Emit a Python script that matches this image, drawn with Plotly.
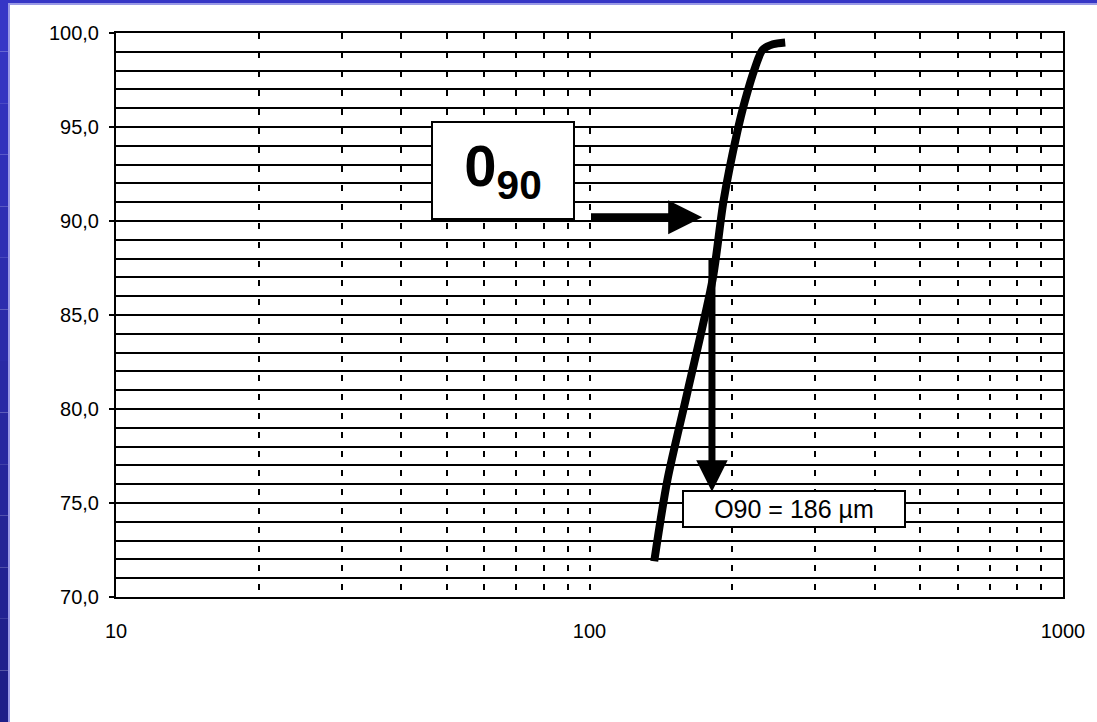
import math
import plotly.graph_objects as go

# ---- data ----
size_um = [137, 146, 161, 182, 192, 205, 213, 224, 232, 244, 259]
passing_pct = [71.9, 76.2, 80.9, 86.9, 91.1, 94.7, 96.4, 98.2, 99.1, 99.4, 99.5]

x_grid_vals = [10, 20, 30, 40, 50, 60, 70, 80, 90,
               100, 200, 300, 400, 500, 600, 700, 800, 900, 1000]
x_tick_text = ["10", "", "", "", "", "", "", "", "",
               "100", "", "", "", "", "", "", "", "", "1000"]
y_tick_vals = [70, 75, 80, 85, 90, 95, 100]

d90_value = 186
d90_level = 90

# ---- layout geometry (pixels) ----
W, H = 1097, 722
L, R, T, B = 116, 1063, 33, 597


def px_x(px):
    return (px - L) / (R - L)


def px_y(py):
    return (B - py) / (B - T)


FONT = "Liberation Sans, Arial, sans-serif"

fig = go.Figure()
fig.add_trace(go.Scatter(
    x=size_um, y=passing_pct, mode="lines",
    line=dict(color="black", width=8, shape="spline", smoothing=0.8),
    hoverinfo="skip", showlegend=False,
))

# ---- decorative blue frame ----
shapes = []
top_c = (0x36, 0x36, 0xc6)
bot_c = (0x1e, 0x1e, 0x88)
n = 14
for i in range(n):
    t = i / (n - 1)
    c = tuple(int(round(top_c[k] + (bot_c[k] - top_c[k]) * t)) for k in range(3))
    y0 = i * H / n
    y1 = (i + 1) * H / n
    shapes.append(dict(type="rect", xref="paper", yref="paper",
                       x0=px_x(0), x1=px_x(8), y0=px_y(y1), y1=px_y(y0),
                       fillcolor="rgb(%d,%d,%d)" % c, line=dict(width=0), layer="above"))
shapes.append(dict(type="rect", xref="paper", yref="paper",
                   x0=px_x(0), x1=px_x(W), y0=px_y(3), y1=px_y(0),
                   fillcolor="rgb(54,54,198)", line=dict(width=0), layer="above"))
shapes.append(dict(type="rect", xref="paper", yref="paper",
                   x0=px_x(8), x1=px_x(W), y0=px_y(5), y1=px_y(3),
                   fillcolor="#9a9ae6", line=dict(width=0), layer="above"))
shapes.append(dict(type="rect", xref="paper", yref="paper",
                   x0=px_x(8), x1=px_x(10), y0=px_y(H), y1=px_y(3),
                   fillcolor="#9a9ae6", line=dict(width=0), layer="above"))

annotations = [
    # big label box
    dict(x=math.log10(65.6), y=92.66, xref="x", yref="y",
         text="<b>0<sub>90</sub></b>", showarrow=False,
         font=dict(family=FONT, size=58, color="black"),
         bgcolor="white", bordercolor="black", borderwidth=2, borderpad=0,
         width=140, height=95, align="center", valign="middle"),
    # horizontal arrow
    dict(x=math.log10(173), y=90.2, xref="x", yref="y",
         ax=math.log10(100), ay=90.2, axref="x", ayref="y",
         text="", showarrow=True, arrowhead=2, arrowsize=0.85,
         arrowwidth=8, arrowcolor="black", standoff=0),
    # vertical arrow
    dict(x=math.log10(181.4), y=75.6, xref="x", yref="y",
         ax=math.log10(181.4), ay=88.1, axref="x", ayref="y",
         text="", showarrow=True, arrowhead=2, arrowsize=0.9,
         arrowwidth=7, arrowcolor="black", standoff=0),
    # result box
    dict(x=2.432, y=74.68, xref="x", yref="y",
         text="O90 = %d µm" % d90_value, showarrow=False,
         font=dict(family=FONT, size=25, color="black"),
         bgcolor="white", bordercolor="black", borderwidth=2, borderpad=0,
         width=220, height=34, align="center", valign="middle"),
]

fig.update_layout(
    width=W, height=H,
    margin=dict(l=L, r=W - R, t=T, b=H - B, pad=0),
    paper_bgcolor="white", plot_bgcolor="white",
    separators=",.",
    showlegend=False,
    shapes=shapes,
    annotations=annotations,
    font=dict(family=FONT, size=20, color="black"),
)
fig.update_xaxes(
    type="log", range=[1, 3],
    tickmode="array", tickvals=x_grid_vals, ticktext=x_tick_text,
    showgrid=True, gridcolor="black", gridwidth=1.5, griddash="6px,13px",
    showline=True, mirror=True, linecolor="black", linewidth=2,
    ticks="", ticklabelstandoff=15,
    tickfont=dict(family=FONT, size=20, color="black"),
    zeroline=False,
)
fig.update_yaxes(
    range=[70, 100], tickmode="array", tickvals=y_tick_vals,
    tickformat=".1f",
    showgrid=True, gridcolor="black", gridwidth=2,
    minor=dict(dtick=1, showgrid=True, gridcolor="black", gridwidth=2, ticks=""),
    showline=True, mirror=True, linecolor="black", linewidth=2,
    ticks="outside", ticklen=5, tickcolor="black", tickwidth=2,
    ticklabelstandoff=6,
    tickfont=dict(family=FONT, size=20, color="black"),
    zeroline=False,
)

fig.write_html(
    "out.html",
    config={"displayModeBar": False},
    post_script="document.body.style.margin='0';document.body.style.overflow='hidden';",
)
